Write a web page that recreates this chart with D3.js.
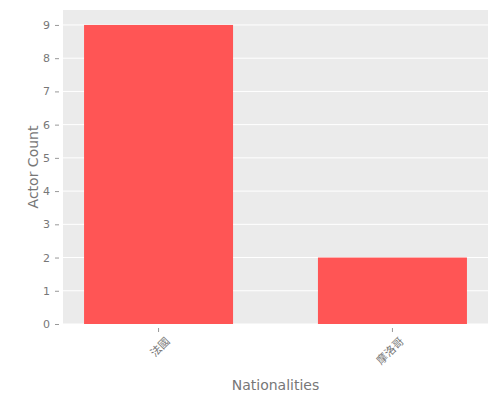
<!DOCTYPE html>
<html><head><meta charset="utf-8">
<script src="https://cdn.jsdelivr.net/npm/d3@7"></script>
<style>body{margin:0;background:#fff}</style></head>
<body><svg id="c" width="500" height="400"></svg>
<script>
const categories = ["法國", "摩洛哥"];
const counts = [9, 2];
const yTicks = [0,1,2,3,4,5,6,7,8,9];

const svg = d3.select("#c");
const L=63,R=488,T=10,B=324;
const x = d3.scaleBand().domain(categories).range([L,R]).paddingInner(0.363).paddingOuter(0.09);
const y = d3.scaleLinear().domain([0,9.45]).range([B,T]);
const font = "DejaVu Sans, sans-serif", gray="#777";

svg.append("rect").attr("x",L).attr("y",T).attr("width",R-L).attr("height",B-T).attr("fill","#ebebeb");
svg.append("g").selectAll("line").data(yTicks).join("line")
  .attr("x1",L).attr("x2",R).attr("y1",d=>y(d)).attr("y2",d=>y(d)).attr("stroke","#fff").attr("stroke-width",1);

svg.append("g").selectAll("rect").data(categories).join("rect")
  .attr("x",d=>x(d)).attr("width",x.bandwidth())
  .attr("y",(d,i)=>y(counts[i])).attr("height",(d,i)=>B-y(counts[i]))
  .attr("fill","#ff5555");

const ya = svg.append("g").attr("transform",`translate(${L-4},0)`)
  .call(d3.axisLeft(y).tickValues(yTicks).tickSize(4).tickPadding(5));
ya.select(".domain").remove();
ya.selectAll("line").attr("stroke","#999");
ya.selectAll("text").attr("fill",gray).attr("font-family",font).attr("font-size",11);

const xa = svg.append("g").attr("transform",`translate(0,${B+4})`)
  .call(d3.axisBottom(x).tickSize(4).tickPadding(4));
xa.select(".domain").remove();
xa.selectAll("line").attr("stroke","#999");
xa.selectAll("text").attr("fill",gray).attr("font-family","Noto Sans CJK TC, sans-serif").attr("font-size",11)
  .attr("text-anchor","end").attr("dy","0.3em").attr("transform","translate(4,6) rotate(-45)");

svg.append("text").attr("x",(L+R)/2).attr("y",390).attr("text-anchor","middle")
  .attr("fill",gray).attr("font-family",font).attr("font-size",14).text("Nationalities");
svg.append("text").attr("transform",`translate(38,${(T+B)/2}) rotate(-90)`).attr("text-anchor","middle")
  .attr("fill",gray).attr("font-family",font).attr("font-size",14).text("Actor Count");
</script></body></html>
